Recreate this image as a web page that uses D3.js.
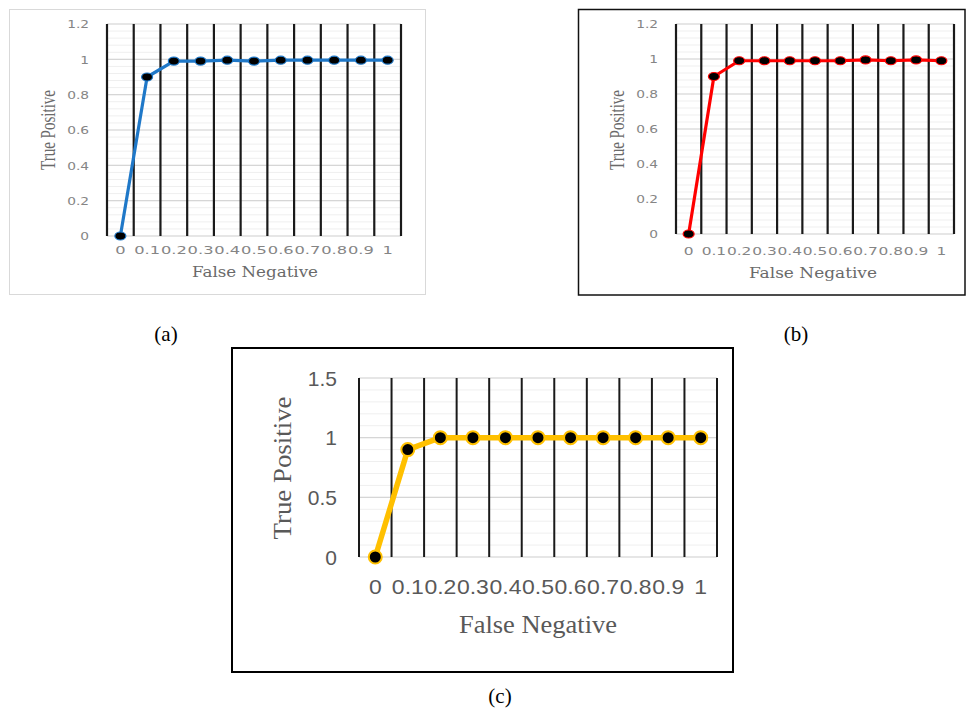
<!DOCTYPE html>
<html>
<head>
<meta charset="utf-8">
<script src="https://cdn.jsdelivr.net/npm/d3@7"></script>
<style>
  body { margin: 0; background: #fff; }
  svg { display: block; }
</style>
</head>
<body>
<script>
const width = 966;
const height = 708;

// data
const categories = ['0', '0.1', '0.2', '0.3', '0.4', '0.5', '0.6', '0.7', '0.8', '0.9', '1'];
const seriesA = [0, 0.9, 0.99, 0.99, 0.995, 0.99, 0.995, 0.995, 0.995, 0.995, 0.995];
const seriesB = [0, 0.9, 0.99, 0.99, 0.99, 0.99, 0.99, 0.995, 0.99, 0.995, 0.99];
const seriesC = [0, 0.9, 1, 1, 1, 1, 1, 1, 1, 1, 1];
const yTicksAB = [0, 0.2, 0.4, 0.6, 0.8, 1, 1.2];
const yTicksC = [0, 0.5, 1, 1.5];
const xTitle = 'False Negative';
const yTitle = 'True Positive';
const captions = ['(a)', '(b)', '(c)'];

const svg = d3.select('body').append('svg')
    .attr('width', width)
    .attr('height', height);

function drawPanel(values, yTicks, o) {
  const g = svg.append('g');

  g.append('rect')
      .attr('x', o.frame[0]).attr('y', o.frame[1])
      .attr('width', o.frame[2]).attr('height', o.frame[3])
      .attr('fill', 'none')
      .attr('stroke', o.frameColor)
      .attr('stroke-width', o.frameWidth);

  const x = d3.scaleBand()
      .domain(categories)
      .range([o.left, o.right])
      .padding(0);

  const yMax = yTicks[yTicks.length - 1];
  const y = d3.scaleLinear()
      .domain([0, yMax])
      .range([o.bottom, o.top]);

  // minor gridlines, 5 per major step
  const step = yTicks[1] - yTicks[0];
  const minors = d3.range(0, yMax + 1e-9, step / 5);
  g.append('g').selectAll('line')
    .data(minors)
    .join('line')
      .attr('x1', o.left).attr('x2', o.right)
      .attr('y1', d => y(d)).attr('y2', d => y(d))
      .attr('stroke', '#efefef')
      .attr('stroke-width', 1);

  g.append('g').selectAll('line')
    .data(yTicks)
    .join('line')
      .attr('x1', o.left).attr('x2', o.right)
      .attr('y1', d => y(d)).attr('y2', d => y(d))
      .attr('stroke', '#d6d6d6')
      .attr('stroke-width', 1.2);

  // black category boundaries
  const bounds = d3.range(categories.length + 1);
  g.append('g').selectAll('line')
    .data(bounds)
    .join('line')
      .attr('x1', i => o.left + i * x.step())
      .attr('x2', i => o.left + i * x.step())
      .attr('y1', o.top).attr('y2', o.bottom)
      .attr('stroke', '#1a1a1a')
      .attr('stroke-width', o.vWidth);

  const yAxis = g.append('g')
      .attr('transform', `translate(${o.left},0)`)
      .call(d3.axisLeft(y).tickValues(yTicks).tickSize(0).tickFormat(d => String(d)));
  yAxis.select('.domain').remove();
  yAxis.selectAll('text')
      .attr('x', -o.yGap / o.ySx)
      .attr('dy', '0.35em')
      .attr('transform', `scale(${o.ySx},1)`)
      .attr('fill', o.tickColor)
      .style('font-family', o.tickFont)
      .style('font-size', o.tickSize + 'px');

  const xAxis = g.append('g')
      .attr('transform', `translate(0,${o.bottom})`)
      .call(d3.axisBottom(x).tickSize(0));
  xAxis.select('.domain').remove();
  xAxis.selectAll('text')
      .attr('y', o.xLabelY - o.bottom)
      .attr('dy', '0.35em')
      .attr('transform', `scale(${o.xSx},1)`)
      .attr('fill', o.tickColor)
      .style('font-family', o.tickFont)
      .style('font-size', o.tickSize + 'px');

  const line = d3.line()
      .x((d, i) => x(categories[i]) + x.bandwidth() / 2)
      .y(d => y(d));

  g.append('path')
      .datum(values)
      .attr('d', line)
      .attr('fill', 'none')
      .attr('stroke', o.color)
      .attr('stroke-width', o.lineWidth)
      .attr('stroke-linejoin', 'round');

  g.append('g').selectAll('ellipse')
    .data(values)
    .join('ellipse')
      .attr('cx', (d, i) => x(categories[i]) + x.bandwidth() / 2)
      .attr('cy', d => y(d))
      .attr('rx', o.rx).attr('ry', o.ry)
      .attr('fill', '#000')
      .attr('stroke', o.color)
      .attr('stroke-width', o.markerStroke);

  g.append('text')
      .attr('x', o.xTitle[0]).attr('y', o.xTitle[1])
      .attr('text-anchor', 'middle')
      .attr('textLength', o.xTitle[2])
      .attr('lengthAdjust', 'spacingAndGlyphs')
      .attr('fill', o.titleColor)
      .style('font-family', o.xTitleFont)
      .style('font-size', o.xTitle[3] + 'px')
      .text(xTitle);

  g.append('text')
      .attr('transform', `translate(${o.yTitle[0]},${o.yTitle[1]}) rotate(-90)`)
      .attr('text-anchor', 'middle')
      .attr('dy', '0.35em')
      .attr('textLength', o.yTitle[2])
      .attr('lengthAdjust', 'spacingAndGlyphs')
      .attr('fill', o.titleColor)
      .style('font-family', '"Liberation Serif", serif')
      .style('font-size', o.yTitle[3] + 'px')
      .text(yTitle);

  g.append('text')
      .attr('x', o.caption[0]).attr('y', o.caption[1])
      .attr('text-anchor', 'middle')
      .attr('fill', '#000')
      .style('font-family', '"Liberation Serif", serif')
      .style('font-size', '21px')
      .text(o.caption[2]);
}

drawPanel(seriesA, yTicksAB, {
  frame: [9.5, 9.5, 416, 285], frameColor: '#d9d9d9', frameWidth: 1,
  left: 107, right: 401, top: 24, bottom: 236,
  vWidth: 2.2,
  tickFont: '"DejaVu Sans", sans-serif', tickSize: 11, tickColor: '#858585',
  ySx: 1.25, yGap: 18, xSx: 1.48, xLabelY: 250,
  color: '#1f78c8', lineWidth: 3.2, rx: 5.5, ry: 4, markerStroke: 1.2,
  titleColor: '#6a6a6a', xTitleFont: '"DejaVu Serif", serif',
  xTitle: [255, 277, 126, 14], yTitle: [48, 130, 80, 20],
  caption: [166, 341, captions[0]]
});

drawPanel(seriesB, yTicksAB, {
  frame: [578.5, 9.5, 386.5, 285.5], frameColor: '#111', frameWidth: 1.5,
  left: 676, right: 954, top: 24, bottom: 234,
  vWidth: 2.2,
  tickFont: '"DejaVu Sans", sans-serif', tickSize: 11, tickColor: '#858585',
  ySx: 1.25, yGap: 18, xSx: 1.4, xLabelY: 251,
  color: '#ff0000', lineWidth: 3.2, rx: 5.5, ry: 4, markerStroke: 1.2,
  titleColor: '#6a6a6a', xTitleFont: '"DejaVu Serif", serif',
  xTitle: [813, 278, 128, 14], yTitle: [617, 130, 80, 20],
  caption: [796, 341, captions[1]]
});

drawPanel(seriesC, yTicksC, {
  frame: [232, 348, 501, 324], frameColor: '#000', frameWidth: 2,
  left: 359, right: 717, top: 378, bottom: 557,
  vWidth: 2,
  tickFont: '"Liberation Sans", Arial, sans-serif', tickSize: 20, tickColor: '#595959',
  ySx: 1.05, yGap: 22, xSx: 1.15, xLabelY: 587,
  color: '#ffc000', lineWidth: 5.5, rx: 6.5, ry: 6.5, markerStroke: 2,
  titleColor: '#595959', xTitleFont: '"Liberation Serif", serif',
  xTitle: [538, 633, 158, 26], yTitle: [282, 468, 143, 26],
  caption: [500, 703, captions[2]]
});
</script>
</body>
</html>
